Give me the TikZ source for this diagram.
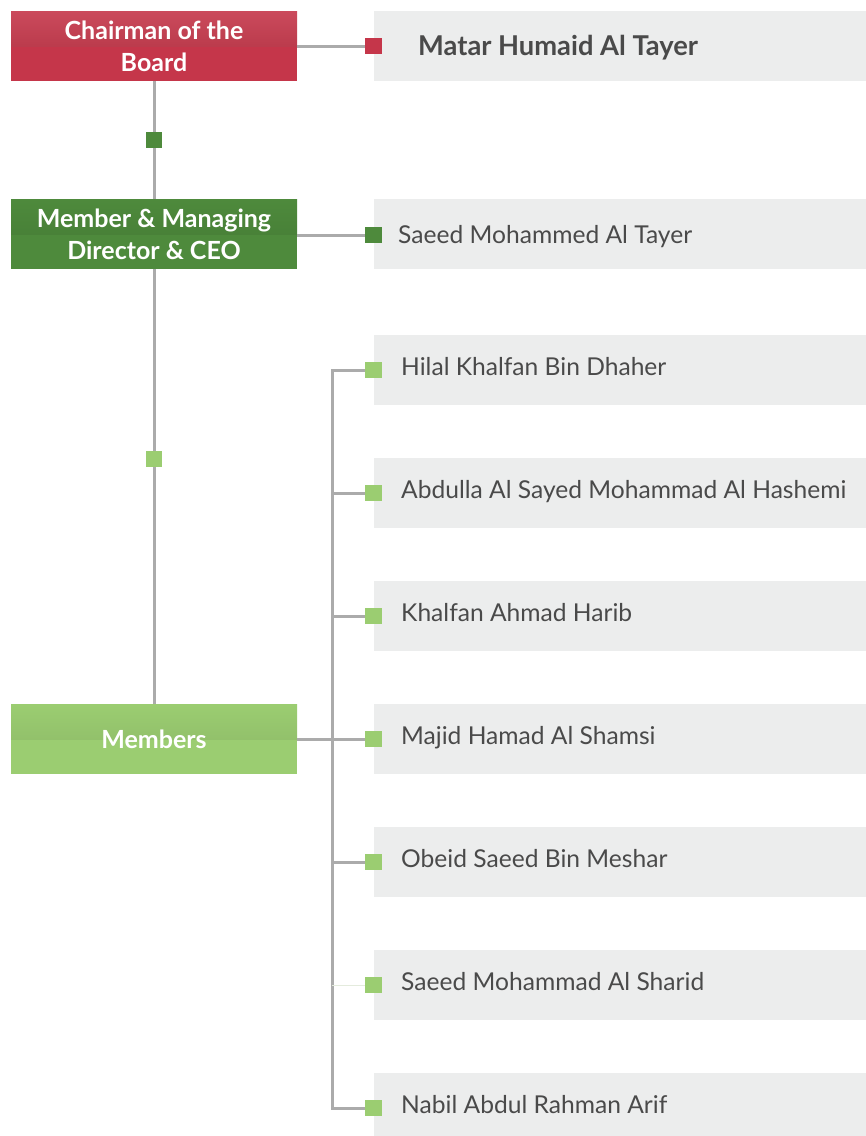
\documentclass[tikz,border=0pt]{standalone}
\usepackage{fontspec}
\setmainfont{Lato}
\begin{document}
\begin{tikzpicture}[x=1pt,y=-1pt,
  hdr/.style={minimum width=286pt,minimum height=70pt,inner sep=0pt,align=center,
    text=white,font=\fontsize{25}{32}\selectfont\bfseries},
  graybox/.style={fill=boxgray,minimum width=492pt,minimum height=70pt,inner sep=0pt,anchor=west},
  nm/.style={anchor=base west,inner sep=0pt,text=nametext,font=\fontsize{24.6}{28}\selectfont},
  sq/.style={minimum size=16pt,inner sep=0pt,fill=#1},
  conn/.style={draw=linegray,line width=3pt}
]
\definecolor{redm}{HTML}{C5364A}
\definecolor{redd}{HTML}{AC2D3D}
\definecolor{grnm}{HTML}{4E8A3C}
\definecolor{grnd}{HTML}{437834}
\definecolor{lgm}{HTML}{9BCD71}
\definecolor{lgd}{HTML}{8AB565}
\definecolor{boxgray}{HTML}{ECEDED}
\definecolor{linegray}{HTML}{ABABAB}
\definecolor{paleline}{HTML}{E4EBDD}
\definecolor{nametext}{HTML}{4A4A4A}
\useasboundingbox (0,0) rectangle (866,1136);
\clip (0,0) rectangle (866,1136);

% header boxes
\node[hdr,fill=redm,path picture={\shade[top color=redm!90!white,bottom color=redd]
  (path picture bounding box.north west) rectangle (path picture bounding box.east);}]
  (chair) at (154,46) {Chairman of the\\Board};
\node[hdr,fill=grnm,path picture={\shade[top color=grnm,bottom color=grnd]
  (path picture bounding box.north west) rectangle (path picture bounding box.east);}]
  (ceo) at (154,234) {Member \& Managing\\Director \& CEO};
\node[hdr,fill=lgm,path picture={\shade[top color=lgm,bottom color=lgd]
  (path picture bounding box.north west) rectangle (path picture bounding box.east);}]
  (mem) at (154,739) {Members};

% gray boxes
\node[graybox] (g0) at (374,46) {};
\node[graybox] (g1) at (374,234) {};
\node[graybox] (g2) at (374,370) {};
\node[graybox] (g3) at (374,493) {};
\node[graybox] (g4) at (374,616) {};
\node[graybox] (g5) at (374,739) {};
\node[graybox] (g6) at (374,862) {};
\node[graybox] (g7) at (374,985) {};
\node[graybox] (g8) at (374,1108) {};

% names
\node[nm,font=\fontsize{27.3}{30}\selectfont\bfseries] (n0) at (418,55) {Matar Humaid Al Tayer};
\node[nm] (n1) at (398,243) {Saeed Mohammed Al Tayer};
\node[nm] (n2) at (401,375) {Hilal Khalfan Bin Dhaher};
\node[nm] (n3) at (401,498) {Abdulla Al Sayed Mohammad Al Hashemi};
\node[nm] (n4) at (401,621) {Khalfan Ahmad Harib};
\node[nm] (n5) at (401,744) {Majid Hamad Al Shamsi};
\node[nm] (n6) at (401,867) {Obeid Saeed Bin Meshar};
\node[nm] (n7) at (401,990) {Saeed Mohammad Al Sharid};
\node[nm] (n8) at (401,1113) {Nabil Abdul Rahman Arif};

% squares
\node[sq=redm] (s0) at (373.5,46) {};
\node[sq=grnm] (s1) at (373.5,235) {};
\node[sq=lgm] (s2) at (373.5,370) {};
\node[sq=lgm] (s3) at (373.5,493) {};
\node[sq=lgm] (s4) at (373.5,616) {};
\node[sq=lgm] (s5) at (373.5,739) {};
\node[sq=lgm] (s6) at (373.5,862) {};
\node[sq=lgm] (s7) at (373.5,985) {};
\node[sq=lgm] (s8) at (373.5,1108) {};
\coordinate (trunk) at (332,0);

% connectors
\path[conn] (chair.east |- s0) -- (s0.west);
\path[conn] (ceo.east |- s1) -- (s1.west);
\path[conn] (chair.south) -- (ceo.north);
\path[conn] (ceo.south) -- (mem.north);
\path[conn] (mem.east) -- (s5.west);
\path[conn] (s2.west) -- (s2.west -| trunk) -- (s8.west -| trunk) -- (s8.west);
\foreach \i in {3,4,6} {\path[conn] (s\i.west -| trunk) -- (s\i.west);}
\draw[paleline,line width=1pt] (s7.west -| trunk) -- (s7.west);

% mid squares on the vertical line
\node[sq=grnm] (m1) at (154,140) {};
\node[sq=lgm] (m2) at (154,459) {};
% redraw squares above connectors
\foreach \i/\c in {0/redm,1/grnm,2/lgm,3/lgm,4/lgm,5/lgm,6/lgm,7/lgm,8/lgm}
  {\fill[\c] (s\i.north west) rectangle (s\i.south east);}
\end{tikzpicture}
\end{document}
